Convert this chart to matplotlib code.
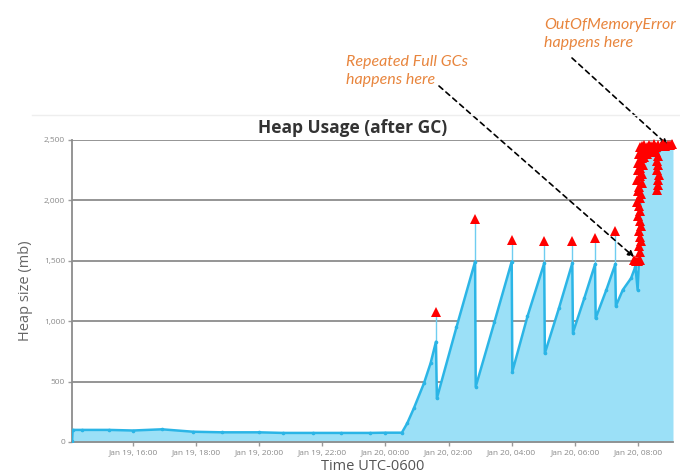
import matplotlib.pyplot as plt
from matplotlib.lines import Line2D

# ---------------------------------------------------------------------------
# datos (horas desde Jan 19 00:00, heap en mb)
# ---------------------------------------------------------------------------
time_h = [14.07, 14.09, 14.39, 15.24, 16.0, 16.92, 17.9, 18.82, 20.0, 20.75,
          21.7, 22.6, 23.5, 24.0, 24.52, 24.69, 24.9, 25.22, 25.43, 25.6,
          25.63, 26.25, 26.84,
          26.86, 27.45, 28.0,
          28.02, 28.5, 29.03,
          29.05, 29.5, 29.92,
          29.94, 30.3, 30.64,
          30.66, 31.0, 31.28,
          31.3, 31.52, 31.78, 31.92, 31.99, 32.03, 32.06, 32.1, 32.15,
          32.4, 32.6, 32.8, 33.11]
heap_mb = [5, 100, 100, 100, 95, 105, 85, 80, 80, 75,
           75, 75, 75, 77, 77, 155, 279, 486, 652, 830,
           362, 950, 1493,
           458, 990, 1493,
           582, 1040, 1480,
           734, 1110, 1480,
           905, 1190, 1470,
           1024, 1260, 1470,
           1126, 1259, 1355, 1452, 1259, 1500, 1850, 2250, 2420,
           2400, 2380, 2440, 2450]

# picos de full GC (triangulos) y el valor antes del GC
gc_t = [25.6, 26.84, 28.0, 29.03, 29.92, 30.64, 31.28]
gc_peak = [830, 1493, 1493, 1480, 1480, 1470, 1470]
gc_v = [1079, 1844, 1673, 1664, 1660, 1686, 1750]

# cluster de full GCs repetidos + OutOfMemoryError
oom_t = [31.86, 31.93, 32.0, 32.05,
         32.08, 32.04, 32.1, 32.06, 32.02, 32.09, 32.05, 32.0, 32.08, 32.03,
         31.98, 32.06, 32.1, 32.0, 32.04, 32.12, 31.98, 32.06, 32.14, 32.0,
         32.08, 32.16, 31.99, 32.05, 32.12, 32.2, 32.02, 32.09, 32.17, 32.25,
         32.05, 32.12, 32.2, 32.28,
         32.35, 32.42, 32.5, 32.57, 32.65, 32.72, 32.8, 32.87, 32.94, 33.02,
         33.09,
         32.58, 32.64, 32.6, 32.65, 32.61, 32.66, 32.62, 32.65, 32.6,
         32.36, 32.44, 32.3]
oom_v = [1505, 1500, 1500, 1510,
         1570, 1620, 1660, 1700, 1750, 1790, 1830, 1870, 1910, 1950,
         1990, 2020, 2050, 2080, 2110, 2140, 2170, 2200, 2220, 2250,
         2270, 2290, 2310, 2330, 2350, 2360, 2380, 2400, 2410, 2420,
         2440, 2450, 2460, 2440,
         2460, 2450, 2465, 2445, 2460, 2450, 2465, 2450, 2460, 2455,
         2465,
         2400, 2370, 2330, 2290, 2250, 2210, 2170, 2130, 2090,
         2400, 2410, 2380]

tick_hours = [16, 18, 20, 22, 24, 26, 28, 30, 32]
tick_labels = ["Jan 19, 16:00", "Jan 19, 18:00", "Jan 19, 20:00",
               "Jan 19, 22:00", "Jan 20, 00:00", "Jan 20, 02:00",
               "Jan 20, 04:00", "Jan 20, 06:00", "Jan 20, 08:00"]
y_ticks = [0, 500, 1000, 1500, 2000, 2500]

# ---------------------------------------------------------------------------
# figura
# ---------------------------------------------------------------------------
plt.rcParams["font.family"] = ["Open Sans", "DejaVu Sans"]
fig = plt.figure(figsize=(6.8, 4.75), dpi=100)
ax = fig.add_axes([0.1059, 0.0695, 0.8838, 0.6358])

line_c = "#2bb5e6"
fill_c = "#9be0f7"

ax.fill_between(time_h, heap_mb, 0, color=fill_c, lw=0, zorder=1)
ax.vlines(gc_t, gc_peak, gc_v, color="#6fcdf0", lw=1.0, zorder=2)
ax.plot(time_h, heap_mb, color=line_c, lw=1.8, marker="o", ms=1.6, zorder=3)
ax.plot(gc_t, gc_v, ls="none", marker="^", ms=6.5, color="red", mew=0, zorder=4)
ax.plot(oom_t, oom_v, ls="none", marker="^", ms=7.5, color="red", mew=0,
        zorder=4, clip_on=False)

ax.set_xlim(14.07, 33.11)
ax.set_ylim(0, 2500)
ax.set_yticks(y_ticks)
ax.set_yticklabels([f"{v:,}" for v in y_ticks])
ax.set_xticks(tick_hours)
ax.set_xticklabels(tick_labels)
ax.tick_params(axis="both", labelsize=6, colors="#9a9a9a", length=3, width=1)
ax.tick_params(axis="x", pad=2)
ax.tick_params(axis="y", pad=2)
for lab in ax.get_xticklabels() + ax.get_yticklabels():
    lab.set_color("#8a8a8a")

ax.grid(axis="y", color="#8c8c8c", lw=1.3, zorder=0)
ax.set_axisbelow(True)
for side in ["top", "right"]:
    ax.spines[side].set_visible(False)
for side in ["left", "bottom"]:
    ax.spines[side].set_color("#8c8c8c")
    ax.spines[side].set_linewidth(1.3)

ax.set_ylabel("Heap size (mb)", fontsize=10.5, color="#666666", labelpad=8)
fig.text(373 / 680, 1 - 466 / 475, "Time UTC-0600", fontsize=10.5,
         color="#555555", ha="center", va="center")

fig.text(353 / 680, 1 - 128 / 475, "Heap Usage (after GC)", fontsize=12.5,
         fontweight="bold", color="#333333", ha="center", va="center")
fig.add_artist(Line2D([32 / 680, 1], [1 - 115 / 475, 1 - 115 / 475],
                      color="#eeeeee", lw=1))

orange = "#e8853d"
arrow = dict(arrowstyle="-|>", color="black", lw=1.2, ls=(0, (3, 2.5)),
             mutation_scale=9, shrinkA=0, shrinkB=0)
ax.annotate("", xy=(31.88, 1530), xycoords="data",
            xytext=(439 / 680, 1 - 86 / 475), textcoords="figure fraction",
            arrowprops=arrow)
ax.annotate("", xy=(32.95, 2455), xycoords="data",
            xytext=(572 / 680, 1 - 58 / 475), textcoords="figure fraction",
            arrowprops=arrow)
fig.text(346 / 680, 1 - 71 / 475, "Repeated Full GCs\nhappens here",
         fontsize=11.5, style="italic", color=orange, ha="left", va="center",
         linespacing=1.35, family=["Lato", "DejaVu Sans"])
fig.text(544 / 680, 1 - 34 / 475, "OutOfMemoryError\nhappens here",
         fontsize=11.5, style="italic", color=orange, ha="left", va="center",
         linespacing=1.35, family=["Lato", "DejaVu Sans"])

fig.savefig("out.png", dpi=100)
